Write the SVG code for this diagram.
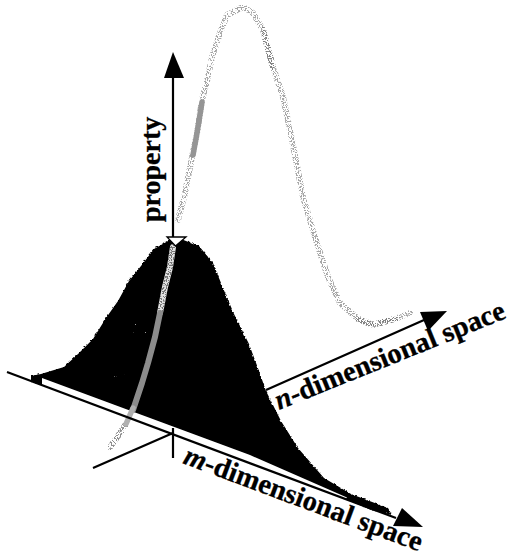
<svg xmlns="http://www.w3.org/2000/svg" width="511" height="557" viewBox="0 0 511 557">
<style>
.ax{stroke:#000;stroke-width:2.2;fill:none}
.tip{fill:#000}
.lb{font-family:"Liberation Serif",serif;font-weight:bold;fill:#000;stroke:#000;stroke-width:.3}
.lb tspan{font-style:italic}
.cv{fill:none;stroke-linecap:round;stroke-linejoin:round}
</style>
<defs>
<filter id="st" x="-10%" y="-10%" width="120%" height="120%">
<feTurbulence type="fractalNoise" baseFrequency="0.8" numOctaves="2" seed="4" result="n"/>
<feColorMatrix in="n" type="matrix" values="0 0 0 0 0 0 0 0 0 0 0 0 0 0 0 0 0 0 16 -8" result="m"/>
<feComposite in="SourceGraphic" in2="m" operator="in"/>
</filter>
<filter id="sp" x="-10%" y="-10%" width="120%" height="120%">
<feTurbulence type="fractalNoise" baseFrequency="0.9" numOctaves="1" seed="9" result="n"/>
<feColorMatrix in="n" type="matrix" values="0 0 0 0 0 0 0 0 0 0 0 0 0 0 0 0 0 0 20 -15" result="m"/>
<feComposite in="SourceGraphic" in2="m" operator="in"/>
</filter>
<filter id="jag" x="-5%" y="-5%" width="110%" height="110%">
<feTurbulence type="turbulence" baseFrequency="0.35" numOctaves="1" seed="2" result="n"/>
<feDisplacementMap in="SourceGraphic" in2="n" scale="2.500" xChannelSelector="R" yChannelSelector="G"/>
</filter>
</defs>
<rect width="511" height="557" fill="#fff"/>
<g id="surface-curve">
<g filter="url(#st)" class="cv">
<path class="cv" d="M178 220L185 193L192 157L197 133L202 100L208 77L212 57L220 33L227 15L243 7L253 13L263 30L273 67L283 97L292 140L303 197L315 237L328 277L340 303L357 318L373 325L397 318L410 313" stroke="#a6a6a6" stroke-width="6"/>
</g>
<path class="cv" filter="url(#st)" d="M358 319L373 325L397 318" stroke="#808080" stroke-width="6"/>
<path class="cv" filter="url(#st)" d="M263 30L273 67" stroke="#808080" stroke-width="6"/>
<path class="cv" d="M193 155L197 133L202 102" stroke="#959595" stroke-width="5.500"/>
<path class="cv" filter="url(#st)" d="M126 424L118 436L110 447" stroke="#8e8e8e" stroke-width="6"/>
</g>
<g id="peak">
<path filter="url(#jag)" d="M30 375L40 373L63 366L77 353L92 338L105 317L117 300L128 280L140 265L153 248L167 240L175 236L185 240L198 245L212 262L222 287L233 313L248 343L258 370L265 390L280 420L297 447L323 477L350 493L387 507L391 514L370 509L347 499L250 462L40 384L30 381Z" fill="#000"/>
<path d="M42 378L250 455L347 497.500L345 500L250 464L42 386Z" fill="#fff"/>
<path d="M125 300L150 285L148 345L135 345L125 335ZM110 365H135L130 380H105Z" fill="#999" filter="url(#sp)"/>
<path class="cv" d="M173 247L170 267L165 287L160 313" stroke="#e2e2e2" stroke-width="6" stroke-linecap="butt"/>
<path class="cv" filter="url(#st)" d="M173 247L170 267L165 287L160 313" stroke="#777" stroke-width="6"/>
<path class="cv" d="M160 313L155 337L148 363L142 383L133 410" stroke="#8c8c8c" stroke-width="6" stroke-linecap="butt"/>
<path class="cv" d="M133 408L126 424" stroke="#b0b0b0" stroke-width="5.500" stroke-linecap="butt"/>
</g>
<g id="connectors">
<path class="ax" d="M7 372L396 518"/>
<path class="ax" d="M93 468L173 433M266 390L424 320"/>
<path class="ax" d="M173 458V428"/>
<path class="ax" d="M173 240V72"/>
<path class="tip" d="M173 52L184 78H164Z"/>
<path class="tip" d="M420 312L447 311L428 331Z"/>
<path class="tip" d="M402 508L423 527L393 526Z"/>
<path d="M167 237H186L175.500 246Z" fill="#fff" stroke="#000" stroke-width="1.300"/>
</g>
<g id="labels">
<text class="lb" font-size="28" transform="translate(160 222) rotate(-90)">property</text>
<text class="lb" font-size="28.500" transform="translate(279 410) rotate(-22)"><tspan>n</tspan>-dimensional space</text>
<text class="lb" font-size="28.500" transform="translate(182 463) rotate(20.500)"><tspan>m</tspan>-dimensional space</text>
</g>
</svg>
